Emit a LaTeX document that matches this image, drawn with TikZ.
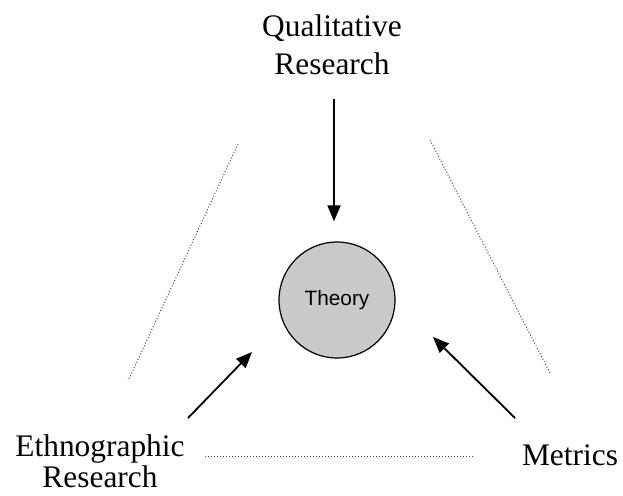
\documentclass[tikz,border=0pt]{standalone}
\usepackage{fontspec}
\setmainfont{Liberation Serif}
\newfontfamily\theoryfont{Liberation Sans}
\usepackage{tikz}
\usetikzlibrary{arrows.meta, positioning, calc}
\definecolor{theorygray}{HTML}{C9C9C9}

\begin{document}
\begin{tikzpicture}[
    x=0.5pt, y=-0.5pt,
    label/.style={align=center, font=\fontsize{15.7}{19}\selectfont, inner sep=0pt},
    theorynode/.style={circle, draw=black, line width=0.6pt, fill=theorygray,
                       minimum size=58pt, inner sep=0pt, font=\theoryfont\fontsize{10.4}{12}\selectfont},
    arr/.style={-{Triangle[length=8pt, width=6.5pt]}, line width=0.9pt},
    link/.style={line width=0.5pt, black!70, dash pattern=on 0.5pt off 1pt},
]
    \useasboundingbox (0,0) rectangle (623,495);

    % centre
    \node[theorynode] (theory) at (337,300) {Theory};

    % the three corners
    \node[label] (qual) at (332,45) {Qualitative\\Research};
    \node[label, font=\fontsize{15.7}{15.7}\selectfont] (ethno) at (100,461) {Ethnographic\\Research};
    \node[label] (metrics) at (570,455) {Metrics};

    % arrow ends
    \coordinate (ethnotail) at (188,418);
    \coordinate (ethnotip) at (252,352);
    \coordinate (metricstail) at (515,418);
    \coordinate (metricstip) at (433,337);

    % dotted sides
    \coordinate (l1) at (238,144);
    \coordinate (l2) at (128,381);
    \coordinate (r1) at (430,140);
    \coordinate (r2) at (550,373);
    \coordinate (b1) at (205,456);
    \coordinate (b2) at (475,456);
    \draw[link] (l1) -- (l2);
    \draw[link] (r1) -- (r2);
    \draw[link] (b1) -- (b2);

    % arrows
    \draw[arr, shorten >=10pt] ($(qual.south)+(2,24)$) -- ($(theory.north)+(-3,0)$);
    \draw[arr] (ethnotail) -- (ethnotip);
    \draw[arr] (metricstail) -- (metricstip);

\end{tikzpicture}
\end{document}
